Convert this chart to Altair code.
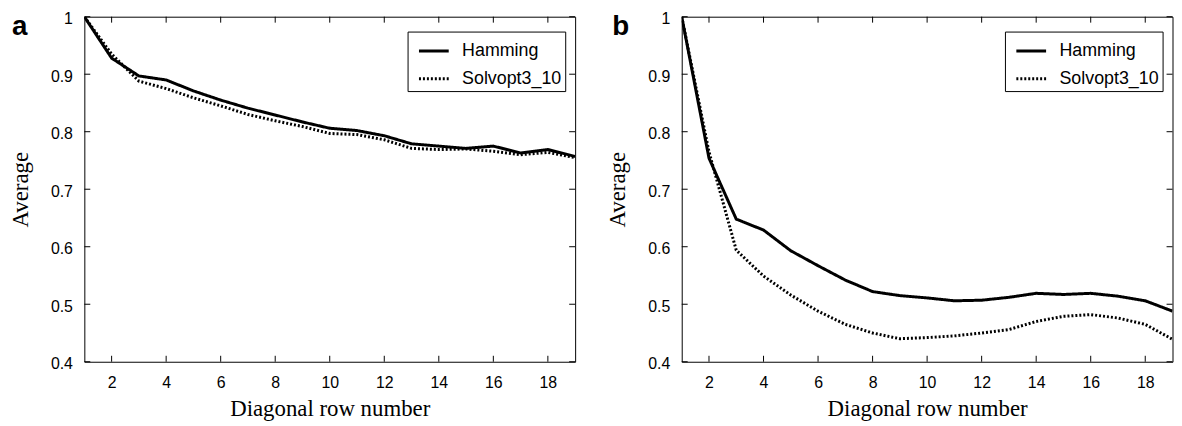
import altair as alt
import pandas as pd

# ---- data ----
rows = list(range(1, 20))
series_names = ["Hamming", "Solvopt3_10"]

a_hamming = [1.0, 0.928, 0.897, 0.890, 0.871, 0.855, 0.841, 0.829, 0.817, 0.806,
             0.802, 0.793, 0.779, 0.775, 0.771, 0.775, 0.763, 0.769, 0.757]
a_solvopt = [1.0, 0.935, 0.888, 0.875, 0.859, 0.845, 0.830, 0.819, 0.809, 0.797,
             0.795, 0.786, 0.771, 0.769, 0.770, 0.766, 0.760, 0.764, 0.755]

b_hamming = [1.0, 0.754, 0.648, 0.629, 0.593, 0.567, 0.542, 0.522, 0.515, 0.511,
             0.506, 0.507, 0.512, 0.519, 0.517, 0.519, 0.514, 0.506, 0.488]
b_solvopt = [1.0, 0.765, 0.594, 0.549, 0.516, 0.488, 0.465, 0.450, 0.440, 0.442,
             0.445, 0.450, 0.456, 0.470, 0.479, 0.482, 0.476, 0.465, 0.439]

x_ticks = [2, 4, 6, 8, 10, 12, 14, 16, 18]
y_ticks = [0.4, 0.5, 0.6, 0.7, 0.8, 0.9, 1.0]

W, H = 495, 348
TICK = 6


def panel(letter, ham, sol, lx, ly):
    df = pd.DataFrame({
        "row": rows + rows,
        "avg": ham + sol,
        "series": [series_names[0]] * len(rows) + [series_names[1]] * len(rows),
    })
    xs = alt.Scale(domain=[1, 19], nice=False, zero=False)
    ys = alt.Scale(domain=[0.4, 1.0], nice=False, zero=False)
    xaxis = alt.Axis(values=x_ticks, format="d", title="Diagonal row number")
    yaxis = alt.Axis(values=y_ticks, format="~g", title="Average")

    lines = alt.Chart(df).mark_line(color="black", strokeWidth=3, clip=True).encode(
        x=alt.X("row:Q", scale=xs, axis=xaxis),
        y=alt.Y("avg:Q", scale=ys, axis=yaxis),
        strokeDash=alt.StrokeDash(
            "series:N",
            scale=alt.Scale(domain=series_names, range=[[1, 0], [2, 2]]),
            legend=alt.Legend(
                title=None, orient="none", legendX=326, legendY=15,
                strokeColor="black", fillColor="white", padding=3,
                symbolType="stroke", symbolSize=900, symbolStrokeWidth=3,
                symbolStrokeColor="black", symbolOffset=7,
                labelFont="Liberation Sans", labelFontSize=18, labelColor="black",
                labelOffset=12, rowPadding=2,
            ),
        ),
        order="row:Q",
    )

    xt = pd.DataFrame({"row": x_ticks})
    yt = pd.DataFrame({"avg": y_ticks})
    bottom = alt.Chart(xt).mark_rule(color="black", strokeWidth=1).encode(
        x=alt.X("row:Q", scale=xs, axis=xaxis), y=alt.value(H), y2=alt.value(H - TICK))
    top = alt.Chart(xt).mark_rule(color="black", strokeWidth=1).encode(
        x=alt.X("row:Q", scale=xs, axis=xaxis), y=alt.value(0), y2=alt.value(TICK))
    left = alt.Chart(yt).mark_rule(color="black", strokeWidth=1).encode(
        y=alt.Y("avg:Q", scale=ys, axis=yaxis), x=alt.value(0), x2=alt.value(TICK))
    right = alt.Chart(yt).mark_rule(color="black", strokeWidth=1).encode(
        y=alt.Y("avg:Q", scale=ys, axis=yaxis), x=alt.value(W - TICK), x2=alt.value(W))

    txt = alt.Chart(pd.DataFrame({"label": [letter]})).mark_text(
        align="left", baseline="alphabetic", font="Liberation Sans",
        fontSize=28, fontWeight="bold", color="black",
    ).encode(text="label:N", x=alt.value(lx), y=alt.value(ly))

    return alt.layer(lines, bottom, top, left, right, txt).properties(width=W, height=H)


pa = panel("a", a_hamming, a_solvopt, -73, 18)
pb = panel("b", b_hamming, b_solvopt, -70, 18)

chart = alt.hconcat(pa, pb, spacing=107.5, bounds="flush").resolve_scale(
    strokeDash="independent"
).resolve_legend(
    strokeDash="independent"
).properties(
    padding={"left": 1, "top": 0, "right": 0, "bottom": 0}
).configure_view(
    stroke="black", strokeWidth=1
).configure_axis(
    labelFont="Liberation Sans", labelFontSize=16, labelColor="black",
    titleFont="Liberation Serif", titleFontSize=23, titleFontWeight="normal",
    titleColor="black", domain=False, ticks=False, grid=False, tickSize=0,
    labelFlush=False, labelOverlap=False,
).configure_axisX(
    labelPadding=13, titlePadding=7
).configure_axisY(
    labelPadding=12, titlePadding=18, labelOffset=2
)

chart.save("out.html", embed_options={"renderer": "svg", "actions": False})
